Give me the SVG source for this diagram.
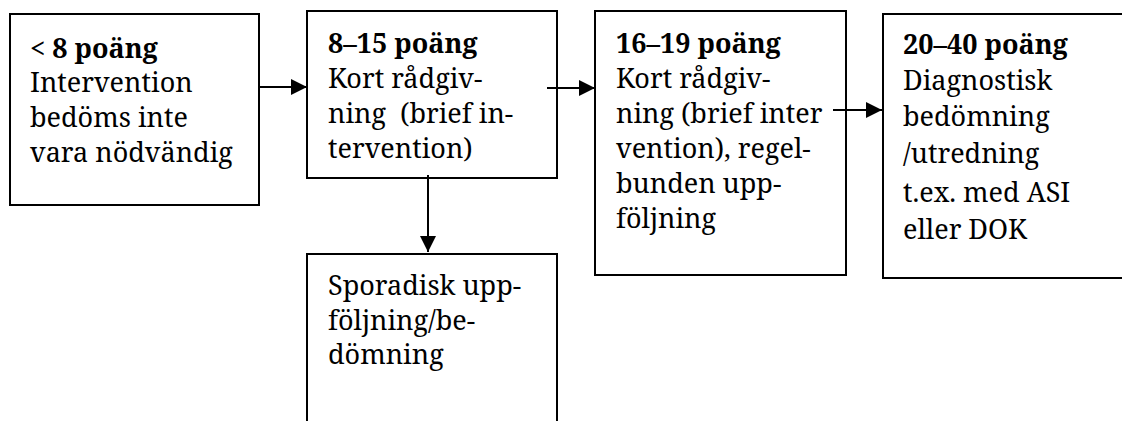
<svg xmlns="http://www.w3.org/2000/svg" width="1122" height="421" viewBox="0 0 1122 421">
  <style>
    .box { fill: #ffffff; stroke: #000000; stroke-width: 2; }
    .lbl { font-family: "Noto Serif", "DejaVu Serif", serif; font-size: 27px; fill: #000000; white-space: pre; }
    .hd { font-weight: bold; }
    .edge { stroke: #000000; stroke-width: 2; fill: none; }
  </style>
  <defs>
    <marker id="arrow" markerUnits="userSpaceOnUse" markerWidth="16" markerHeight="16" viewBox="0 0 16 16" refX="16" refY="8" orient="auto">
      <path d="M0,0 L16,8 L0,16 Z" fill="#000000"/>
    </marker>
  </defs>
  <rect width="1122" height="421" fill="#ffffff"/>

  <g id="node-lt8">
    <rect class="box" x="10" y="14" width="249" height="191"/>
    <text class="lbl">
      <tspan class="hd" x="30" y="58">&lt; 8 poäng</tspan>
      <tspan x="30" y="92">Intervention</tspan>
      <tspan x="30" y="127">bedöms inte</tspan>
      <tspan x="30" y="162">vara nödvändig</tspan>
    </text>
  </g>

  <g id="node-8-15">
    <rect class="box" x="307" y="11" width="250" height="167"/>
    <text class="lbl">
      <tspan class="hd" x="328" y="53">8–15 poäng</tspan>
      <tspan x="328" y="88">Kort rådgiv-</tspan>
      <tspan x="328" y="123">ning  (brief in-</tspan>
      <tspan x="328" y="158">tervention)</tspan>
    </text>
  </g>

  <g id="node-16-19">
    <rect class="box" x="595" y="11" width="251" height="264"/>
    <text class="lbl">
      <tspan class="hd" x="616" y="53">16–19 poäng</tspan>
      <tspan x="616" y="88">Kort rådgiv-</tspan>
      <tspan x="616" y="123">ning (brief inter</tspan>
      <tspan x="616" y="158">vention), regel-</tspan>
      <tspan x="616" y="193">bunden upp-</tspan>
      <tspan x="616" y="228">följning</tspan>
    </text>
  </g>

  <g id="node-20-40">
    <rect class="box" x="883" y="14" width="250" height="264"/>
    <text class="lbl">
      <tspan class="hd" x="903" y="54">20–40 poäng</tspan>
      <tspan x="903" y="90">Diagnostisk</tspan>
      <tspan x="903" y="126">bedömning</tspan>
      <tspan x="903" y="163">/utredning</tspan>
      <tspan x="903" y="202">t.ex. med ASI</tspan>
      <tspan x="903" y="239">eller DOK</tspan>
    </text>
  </g>

  <g id="node-sporadisk">
    <rect class="box" x="307" y="254" width="250" height="190"/>
    <text class="lbl">
      <tspan x="328" y="295">Sporadisk upp-</tspan>
      <tspan x="328" y="330">följning/be-</tspan>
      <tspan x="328" y="364">dömning</tspan>
    </text>
  </g>

  <g id="connectors">
    <line class="edge" x1="259" y1="87" x2="307" y2="87" marker-end="url(#arrow)"/>
    <line class="edge" x1="547" y1="88" x2="595" y2="88" marker-end="url(#arrow)"/>
    <line class="edge" x1="833" y1="110" x2="882" y2="110" marker-end="url(#arrow)"/>
    <line class="edge" x1="428" y1="175" x2="428" y2="252" marker-end="url(#arrow)"/>
  </g>
</svg>
